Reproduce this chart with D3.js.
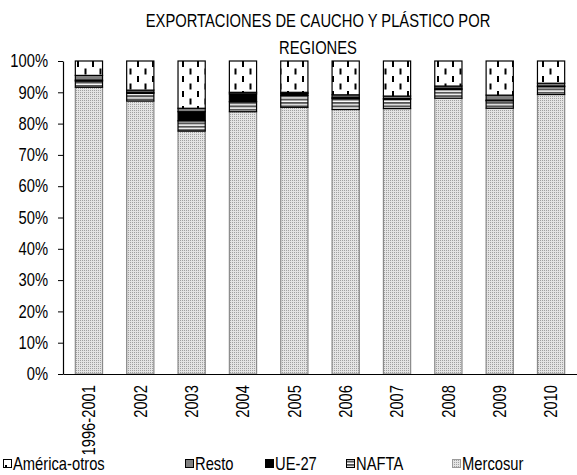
<!DOCTYPE html>
<html>
<head>
<meta charset="utf-8">
<script src="https://cdn.jsdelivr.net/npm/d3@7"></script>
<style>
  body { margin: 0; background: #fff; }
  text { font-family: "Liberation Sans", Arial, sans-serif; }
</style>
</head>
<body>
<div id="chart"></div>
<script>
const width = 577;
const height = 475;
const narrow = 0.82; // squeeze Liberation Sans to look like Arial Narrow

// data (percent shares)
const years = ["1996-2001", "2002", "2003", "2004", "2005", "2006", "2007", "2008", "2009", "2010"];
const mercosur    = [91.6, 87.2, 77.6, 83.8, 85.2, 84.5, 84.8, 88.1, 84.9, 89.3];
const nafta       = [2.0, 2.5, 3.3, 3.2, 3.8, 3.5, 3.0, 2.8, 2.4, 2.5];
const ue27        = [0.3, 0.3, 2.9, 2.5, 0.6, 0.4, 0.2, 0.4, 0.2, 0.2];
const resto       = [1.5, 0.7, 1.1, 0.5, 0.4, 0.8, 0.8, 0.7, 1.6, 0.9];
const americaOtros = [4.6, 9.3, 15.1, 10.0, 10.0, 10.8, 11.2, 8.0, 10.9, 7.1];
const yTicks = [0, 0.1, 0.2, 0.3, 0.4, 0.5, 0.6, 0.7, 0.8, 0.9, 1];

const keys = ["Mercosur", "NAFTA", "UE-27", "Resto", "América-otros"];
const legendOrder = ["América-otros", "Resto", "UE-27", "NAFTA", "Mercosur"];
const legendX = [3, 185, 265, 346, 452];

const rows = years.map((y, i) => ({
    year: y,
    "Mercosur": mercosur[i],
    "NAFTA": nafta[i],
    "UE-27": ue27[i],
    "Resto": resto[i],
    "América-otros": americaOtros[i]
}));

const svg = d3.select("#chart")
    .append("svg")
    .attr("width", width)
    .attr("height", height);

// patterns
const defs = svg.append("defs");

const pMerc = defs.append("pattern").attr("id", "p-merc")
    .attr("patternUnits", "userSpaceOnUse").attr("width", 2).attr("height", 2);
pMerc.append("rect").attr("width", 2).attr("height", 2).attr("fill", "#e4e4e4");
pMerc.append("rect").attr("width", 1).attr("height", 1).attr("fill", "#a0a0a0");

const pNafta = defs.append("pattern").attr("id", "p-nafta")
    .attr("patternUnits", "userSpaceOnUse").attr("width", 4).attr("height", 3.4);
pNafta.append("rect").attr("width", 4).attr("height", 3.4).attr("fill", "#fff");
pNafta.append("rect").attr("width", 4).attr("height", 2).attr("fill", "#555");

const pAm = defs.append("pattern").attr("id", "p-am")
    .attr("patternUnits", "userSpaceOnUse").attr("width", 15).attr("height", 15);
pAm.append("rect").attr("width", 15).attr("height", 15).attr("fill", "#fff");
pAm.append("rect").attr("x", 2).attr("y", 1).attr("width", 2).attr("height", 6).attr("fill", "#000");
pAm.append("rect").attr("x", 9.5).attr("y", 8.5).attr("width", 2).attr("height", 6).attr("fill", "#000");

const fills = {
    "Mercosur": "url(#p-merc)",
    "NAFTA": "url(#p-nafta)",
    "UE-27": "#000",
    "Resto": "#808080",
    "América-otros": "url(#p-am)"
};
const strokes = {
    "Mercosur": "#8a8a8a",
    "NAFTA": "#000",
    "UE-27": "#000",
    "Resto": "#000",
    "América-otros": "#000"
};

// scales
const x = d3.scaleBand()
    .domain(years)
    .range([63, 577])
    .paddingInner(0.47)
    .paddingOuter(0.24);

const y = d3.scaleLinear()
    .domain([0, 1])
    .range([374, 61]);

const stack = d3.stack()
    .keys(keys)
    .offset(d3.stackOffsetExpand);
const series = stack(rows);

// bars
svg.append("g")
    .selectAll("g")
    .data(series)
    .join("g")
    .attr("fill", d => fills[d.key])
    .attr("stroke", d => strokes[d.key])
    .attr("stroke-width", 1.2)
    .selectAll("rect")
    .data(d => d)
    .join("rect")
    .attr("x", d => x(d.data.year))
    .attr("y", d => y(d[1]))
    .attr("width", x.bandwidth())
    .attr("height", d => y(d[0]) - y(d[1]));

// y axis
const yAxis = svg.append("g")
    .attr("transform", "translate(63,0)")
    .call(d3.axisLeft(y).tickValues(yTicks).tickFormat(d3.format(".0%")).tickSize(5).tickSizeOuter(0));
yAxis.select(".domain").attr("stroke", "#000").attr("stroke-width", 1.2);
yAxis.selectAll(".tick line").attr("stroke", "#000");
yAxis.selectAll(".tick text")
    .attr("x", 0)
    .attr("transform", `translate(-15,0) scale(${narrow},1)`)
    .attr("font-size", 18)
    .attr("fill", "#000")
    .style("font-family", '"Liberation Sans", Arial, sans-serif');

// x axis
const xAxis = svg.append("g")
    .attr("transform", "translate(0,374)")
    .call(d3.axisBottom(x).tickSize(0).tickSizeOuter(0));
xAxis.select(".domain").attr("stroke", "#000").attr("stroke-width", 1.2);
xAxis.selectAll(".tick text")
    .attr("x", 0)
    .attr("y", 0)
    .attr("dy", "0.35em")
    .attr("transform", `rotate(-90) translate(-11,0) scale(${narrow},1)`)
    .attr("text-anchor", "end")
    .attr("font-size", 18)
    .attr("fill", "#000")
    .style("font-family", '"Liberation Sans", Arial, sans-serif');

// title
const title = svg.append("text")
    .attr("transform", `translate(318,0) scale(${narrow},1)`)
    .attr("text-anchor", "middle")
    .attr("font-size", 18)
    .attr("fill", "#000");
title.append("tspan").attr("x", 0).attr("y", 27).text("EXPORTACIONES DE CAUCHO Y PLÁSTICO POR");
title.append("tspan").attr("x", 0).attr("y", 54).text("REGIONES");

// legend
const legend = svg.append("g")
    .selectAll("g")
    .data(legendOrder)
    .join("g")
    .attr("transform", (d, i) => `translate(${legendX[i]},464)`);
legend.append("rect")
    .attr("x", 0.5)
    .attr("y", -4.5)
    .attr("width", 8)
    .attr("height", 8)
    .attr("fill", d => fills[d])
    .attr("stroke", d => d === "Mercosur" ? "#9a9a9a" : "#000")
    .attr("stroke-width", 1);
legend.append("text")
    .attr("x", 0)
    .attr("y", 0)
    .attr("dy", "0.35em")
    .attr("transform", `translate(10,0) scale(${narrow},1)`)
    .attr("font-size", 18)
    .attr("fill", "#000")
    .text(d => d);
</script>
</body>
</html>
